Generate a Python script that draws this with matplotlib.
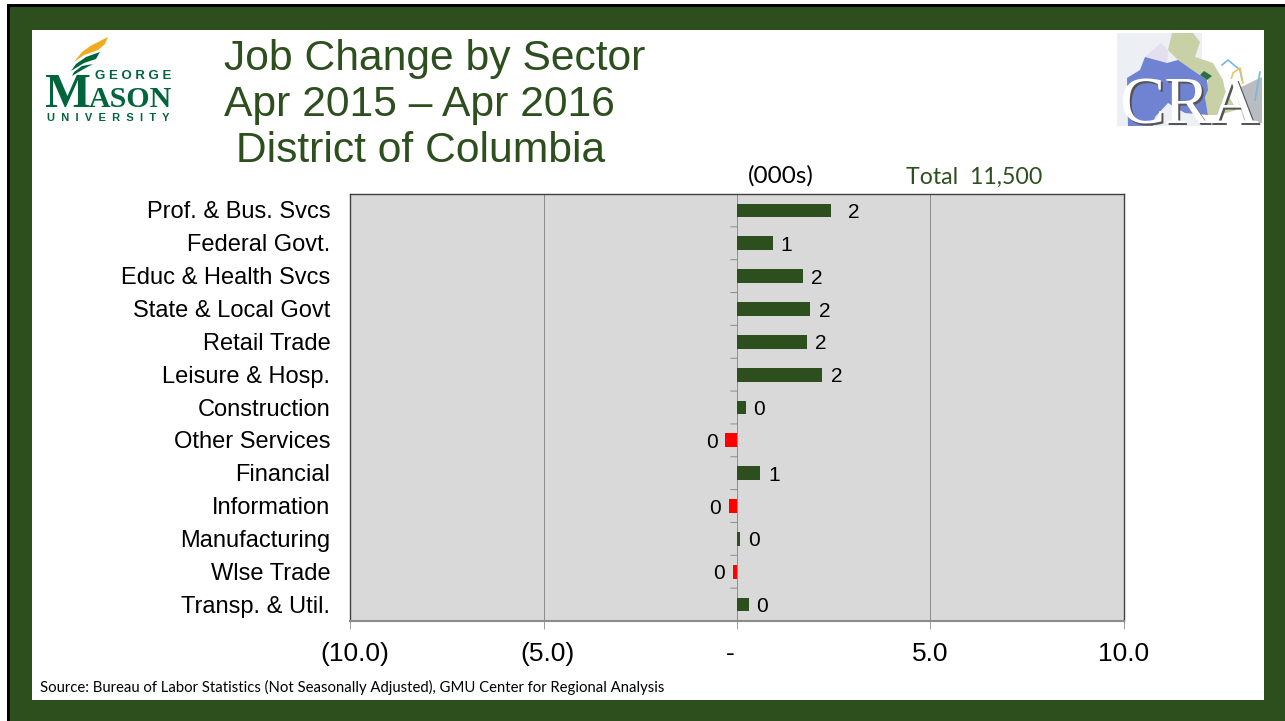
import matplotlib
matplotlib.use("Agg")
import matplotlib.pyplot as plt
from matplotlib.patches import Polygon, Rectangle
from matplotlib.transforms import ScaledTranslation

W, H = 1285, 721

sectors = ["Prof. & Bus. Svcs", "Federal Govt.", "Educ & Health Svcs", "State & Local Govt",
           "Retail Trade", "Leisure & Hosp.", "Construction", "Other Services", "Financial",
           "Information", "Manufacturing", "Wlse Trade", "Transp. & Util."]
changes = [2.42, 0.92, 1.71, 1.90, 1.80, 2.21, 0.22, -0.30, 0.60, -0.20, 0.08, -0.10, 0.30]
value_labels = ["2", "1", "2", "2", "2", "2", "0", "0", "1", "0", "0", "0", "0"]
x_ticks = [-10, -5, 0, 5, 10]
x_tick_labels = ["(10.0)", "(5.0)", "-", "5.0", "10.0"]
title_lines = ["Job Change by Sector", "Apr 2015 \u2013 Apr 2016", " District of Columbia"]

GREEN = "#2d4f1e"
RED = "#ff0000"
MASON = "#00653a"
FONT = "Liberation Sans"


def nudge(artist, dx_px, dy_px):
    # shift a tick label by some pixels
    artist.set_transform(artist.get_transform() + ScaledTranslation(dx_px / 100, dy_px / 100, fig.dpi_scale_trans))


fig = plt.figure(figsize=(W / 100, H / 100), dpi=100, facecolor="white")

# slide background and logos are drawn in pixel coords
bg = fig.add_axes([0, 0, 1, 1])
bg.set_xlim(0, W)
bg.set_ylim(H, 0)
bg.axis("off")
bg.add_patch(Rectangle((7, 4), W - 7, H - 4, fc="black", lw=0))
bg.add_patch(Rectangle((10, 7), W - 10, H - 7, fc=GREEN, lw=0))
bg.add_patch(Rectangle((32, 30), 1232, 670, fc="white", lw=0))

# title
for text, y in zip(title_lines, [59, 105, 151]):
    bg.text(224, y, text, color=GREEN, fontsize=30.7, family=FONT, va="center", ha="left")

# GMU logo
bg.add_patch(Polygon([(108, 37), (92, 45), (82, 52), (74, 62), (84, 55), (98, 50), (105, 44)], fc="#f0ab1e", lw=0))
bg.add_patch(Polygon([(100, 52), (86, 57), (76, 64), (71, 71), (84, 63), (96, 59)], fc=MASON, lw=0))
bg.add_patch(Polygon([(93, 64), (82, 66), (74, 72), (72, 76), (82, 70)], fc=MASON, lw=0))
bg.text(171, 79, "G E O R G E", color=MASON, fontsize=9.5, family=FONT, weight="bold", ha="right", va="baseline")
bg.text(44, 107, "M", color=MASON, fontsize=35, family="Liberation Serif", weight="bold", ha="left", va="baseline")
bg.text(172, 107, "ASON", color=MASON, fontsize=21.5, family="Liberation Serif", weight="bold", ha="right", va="baseline")
bg.text(108, 118, "U  N  I  V  E  R  S  I  T  Y", color=MASON, fontsize=8, family=FONT, weight="bold",
        ha="center", va="center")

# CRA logo
bg.add_patch(Rectangle((1117, 33), 85, 93, fc="#eceff4", lw=0))
bg.add_patch(Polygon([(1235, 90), (1262, 77), (1262, 123), (1245, 123)], fc="#b9bcc0", lw=0))
bg.add_patch(Polygon([(1161, 43), (1145, 57), (1167, 63), (1168, 50)], fc="#e3def0", lw=0))
bg.add_patch(Polygon([(1172, 33), (1193, 33), (1200, 42), (1195, 57), (1213, 63), (1223, 80), (1225, 90),
                      (1237, 110), (1218, 115), (1208, 115), (1205, 97), (1208, 80), (1178, 60), (1168, 50)],
                     fc="#c8d0a6", lw=0))
bg.add_patch(Polygon([(1145, 57), (1167, 63), (1178, 60), (1207, 80), (1208, 90), (1205, 97), (1208, 115),
                      (1185, 113), (1168, 103), (1155, 117), (1153, 126), (1128, 126), (1127, 78), (1140, 70)],
                     fc="#6f83d2", lw=0))
bg.add_patch(Polygon([(1204, 71), (1212, 76), (1207, 80), (1200, 75)], fc="#2a6e46", lw=0))
bg.plot([1222, 1228, 1240, 1242], [65, 60, 70, 80], color="#77b6e0", lw=1.2)
bg.plot([1260, 1255], [72, 100], color="#77b6e0", lw=1.2)
bg.plot([1225, 1233, 1240, 1243], [100, 73, 68, 83], color="#e9c36a", lw=1.2)
bg.text(1191, 125, "CRA", color="#555555", fontsize=49, family="Liberation Serif", ha="center", va="baseline")
bg.text(1189, 124, "CRA", color="white", fontsize=49, family="Liberation Serif", ha="center", va="baseline")

# chart
ax = fig.add_axes([350.5 / W, 1 - 621 / H, (1124 - 351) / W, (621 - 194) / H], facecolor="#d9d9d9")
positions = list(range(len(sectors)))
colors = [GREEN if v >= 0 else RED for v in changes]
ax.barh(positions, changes, height=0.42, color=colors, zorder=3)
ax.set_xlim(-10, 10)
ax.set_ylim(len(sectors) - 0.5, -0.5)
ax.set_xticks(x_ticks)
ax.set_xticklabels(x_tick_labels, fontsize=19, family=FONT, color="black")
ax.tick_params(axis="x", length=6, width=0.7, color="#a0a0a0", pad=9)
ax.set_yticks(positions)
ax.set_yticklabels(sectors, fontsize=17, family=FONT, color="black")
ax.tick_params(axis="y", length=0, pad=14.5)
ax.grid(axis="x", color="#8c8c8c", lw=0.7, zorder=1)
ax.set_axisbelow(True)
for side in ["top", "right", "left"]:
    ax.spines[side].set_color("#404040")
    ax.spines[side].set_linewidth(1)
ax.spines["bottom"].set_color("#8c8c8c")
ax.spines["bottom"].set_linewidth(1.5)

for label in ax.get_yticklabels():
    nudge(label, 0, 0.5)
# the accounting number format pushes these labels off their ticks
for label, dx in zip(ax.get_xticklabels(), [4, 4, -7, 0, 0]):
    nudge(label, dx, 0)

# small tick marks between bars on the zero line
for boundary in positions[:-1]:
    ax.annotate("", xy=(0, boundary + 0.5), xytext=(-4.5, 0), xycoords="data", textcoords="offset points",
                arrowprops=dict(arrowstyle="-", color="#8c8c8c", lw=0.7, shrinkA=0, shrinkB=0))

for i, (v, lab) in enumerate(zip(changes, value_labels)):
    pad = 17 if i == 0 else 10
    ax.annotate(lab, (v, i), xytext=(pad if v >= 0 else -pad, -1.5), textcoords="offset points",
                ha="center", va="center", fontsize=15, family=FONT, color="black", zorder=4)

# header notes and source
bg.text(781, 176, "(000s)", fontsize=17.5, family="Lato", ha="center", va="center", color="black", zorder=5)
bg.text(974, 177, "Total  11,500", fontsize=16.7, family="Lato", ha="center", va="center", color=GREEN, zorder=5)
bg.text(40, 687, "Source: Bureau of Labor Statistics (Not Seasonally Adjusted), GMU Center for Regional Analysis",
        fontsize=10.7, family="Lato", ha="left", va="center", color="black")

fig.savefig("out.png", dpi=100)
plt.close()
